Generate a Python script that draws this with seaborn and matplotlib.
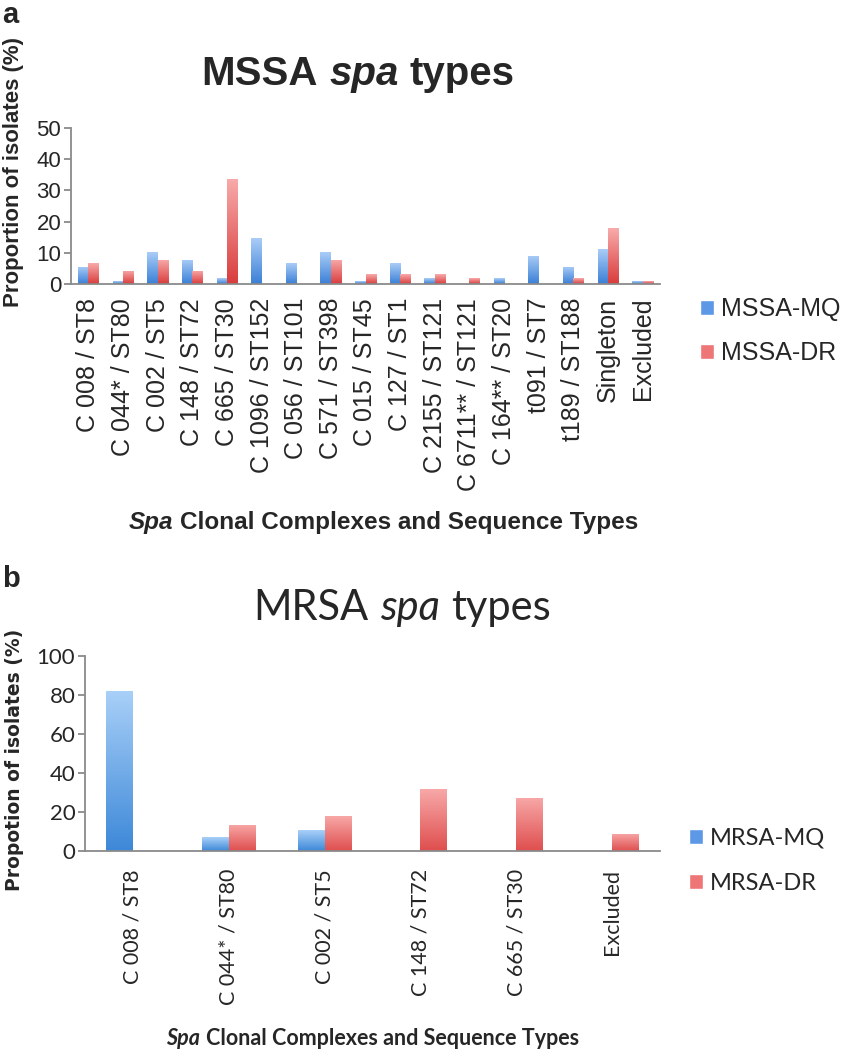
import numpy as np
import pandas as pd
import matplotlib
matplotlib.use("Agg")
import matplotlib.pyplot as plt
import seaborn as sns
from matplotlib.colors import LinearSegmentedColormap
from matplotlib.patches import Patch

# ---------------- data ----------------
mssa_categories = ["C 008 / ST8", "C 044* / ST80", "C 002 / ST5", "C 148 / ST72",
                   "C 665 / ST30", "C 1096 / ST152", "C 056 / ST101", "C 571 / ST398",
                   "C 015 / ST45", "C 127 / ST1", "C 2155 / ST121", "C 6711** / ST121",
                   "C 164** / ST20", "t091 / ST7", "t189 / ST188", "Singleton", "Excluded"]
mssa_mq = [5.5, 0.9, 10.1, 7.7, 1.9, 14.7, 6.6, 10.1, 0.9, 6.6, 1.9, 0.0, 1.9, 9.0, 5.5, 11.2, 0.9]
mssa_dr = [6.6, 4.3, 7.7, 4.3, 33.8, 0.0, 0.0, 7.7, 3.2, 3.2, 3.2, 1.9, 0.0, 0.0, 1.9, 17.9, 0.9]
mssa_series = ["MSSA-MQ", "MSSA-DR"]

mrsa_categories = ["C 008 / ST8", "C 044* / ST80", "C 002 / ST5", "C 148 / ST72",
                   "C 665 / ST30", "Excluded"]
mrsa_mq = [82.2, 7.0, 10.6, 0.0, 0.0, 0.0]
mrsa_dr = [0.0, 13.5, 17.9, 31.6, 27.2, 8.9]
mrsa_series = ["MRSA-MQ", "MRSA-DR"]

mssa_yticks = [0, 10, 20, 30, 40, 50]
mrsa_yticks = [0, 20, 40, 60, 80, 100]

# ---------------- style ----------------
sns.set_style("white")
plt.rcParams["font.family"] = ["Liberation Sans", "DejaVu Sans"]

W, H = 842, 1050
fig = plt.figure(figsize=(W / 100, H / 100), dpi=100)


def fx(x):
    return x / W


def fy(y):
    return 1 - y / H


BLUE = ("#3a7fd6", "#aacdf7")
RED = ("#d93c3c", "#f8abab")
AXC = "#8a8a8a"


def long_df(cats, a, b, names):
    return pd.DataFrame({
        "category": cats * 2,
        "value": list(a) + list(b),
        "series": [names[0]] * len(cats) + [names[1]] * len(cats),
    })


def gradient_bars(ax, grads):
    for cont, (dark, light) in zip(ax.containers, grads):
        cmap = LinearSegmentedColormap.from_list("g", [dark, light])
        for bar in cont:
            h = bar.get_height()
            if not np.isfinite(h) or h <= 0:
                continue
            x0, w = bar.get_x(), bar.get_width()
            im = ax.imshow(np.linspace(0, 1, 256).reshape(-1, 1), extent=[x0, x0 + w, 0, h],
                           origin="lower", aspect="auto", cmap=cmap, zorder=bar.get_zorder())
            im.set_clip_path(bar)
            bar.set_facecolor("none")
            bar.set_edgecolor("none")


def style_axes(ax, n, ylim, yticks, tick_font, tick_size, ytick_size, pad):
    ax.set_xlim(-0.5, n - 0.5)
    ax.set_ylim(*ylim)
    ax.set_yticks(yticks)
    ax.set_xticks(np.arange(-0.5, n, 1.0), minor=True)
    for s in ["top", "right"]:
        ax.spines[s].set_visible(False)
    for s in ["left", "bottom"]:
        ax.spines[s].set_color(AXC)
        ax.spines[s].set_linewidth(1.3)
    ax.tick_params(axis="x", which="major", length=0, pad=pad)
    ax.tick_params(axis="x", which="minor", length=6, width=1.3, color=AXC, direction="out")
    ax.tick_params(axis="y", which="major", length=5, width=1.3, color=AXC, direction="out",
                   pad=2, left=True)
    for lab in ax.get_xticklabels():
        lab.set_rotation(90)
        lab.set_fontfamily(tick_font)
        lab.set_fontsize(tick_size)
        lab.set_va("top")
        lab.set_ha("center")
    for lab in ax.get_yticklabels():
        lab.set_fontfamily(tick_font)
        lab.set_fontsize(ytick_size)
    ax.set_xlabel("")
    ax.set_ylabel("")
    ax.grid(False)


def rich_text(parts, xc, ybase, size, family):
    renderer = fig.canvas.get_renderer()
    texts, widths = [], []
    for s, weight, style in parts:
        t = fig.text(0, 0, s, fontsize=size, fontweight=weight, fontstyle=style,
                     family=family, va="baseline", ha="left")
        widths.append(t.get_window_extent(renderer).width)
        texts.append(t)
    gap = 0.28 * size * 100 / 72
    total = sum(widths) + gap * (len(parts) - 1)
    x = xc - total / 2
    for t, w in zip(texts, widths):
        t.set_position((fx(x), fy(ybase)))
        x += w + gap


# ---------------- panel a: MSSA ----------------
ax1 = fig.add_axes([fx(71), fy(284), (660 - 71) / W, (284 - 128) / H])
df1 = long_df(mssa_categories, mssa_mq, mssa_dr, mssa_series)
sns.barplot(data=df1, x="category", y="value", hue="series", palette=[BLUE[0], RED[0]],
            width=0.6, gap=0, ax=ax1, legend=False, errorbar=None)
gradient_bars(ax1, [BLUE, RED])
style_axes(ax1, len(mssa_categories), (0, 50), mssa_yticks, "Liberation Sans", 18, 16, 10)

fig.text(fx(2), fy(1), "a", fontsize=21, fontweight="bold", family="Liberation Sans",
         va="top", ha="left")
rich_text([("MSSA", "bold", "normal"), ("spa", "bold", "italic"), ("types", "bold", "normal")],
          358, 85, 29, "Liberation Sans")
fig.text(fx(14), fy(172), "Proportion of isolates (%)", rotation=90, fontsize=16,
         fontweight="bold", family="Liberation Sans", va="center", ha="center")
rich_text([("Spa", "bold", "italic"), ("Clonal Complexes and Sequence Types", "bold", "normal")],
          383, 529, 17.5, "Liberation Sans")

h1 = [Patch(facecolor="#5d98e6", label=mssa_series[0]), Patch(facecolor="#ee7676", label=mssa_series[1])]
ax1.legend(handles=h1, loc="upper left", bbox_to_anchor=(fx(700), fy(297)),
           bbox_transform=fig.transFigure, frameon=False, borderpad=0,
           borderaxespad=0, handlelength=0.55, handleheight=0.55, handletextpad=0.3,
           labelspacing=0.8, prop={"family": "Liberation Sans", "size": 18})

# ---------------- panel b: MRSA ----------------
ax2 = fig.add_axes([fx(85), fy(851), (660 - 85) / W, (851 - 656) / H])
df2 = long_df(mrsa_categories, mrsa_mq, mrsa_dr, mrsa_series)
sns.barplot(data=df2, x="category", y="value", hue="series", palette=[BLUE[0], RED[0]],
            width=0.56, gap=0, ax=ax2, legend=False, errorbar=None)
gradient_bars(ax2, [("#3d88d8", "#a9d0f8"), ("#df4e4e", "#f8a8a8")])
style_axes(ax2, len(mrsa_categories), (0, 100), mrsa_yticks, "Lato", 15.5, 16, 13)

fig.text(fx(2), fy(587), "b", fontsize=21, fontweight="bold", family="Liberation Sans",
         va="baseline", ha="left")
rich_text([("MRSA", "normal", "normal"), ("spa", "normal", "italic"), ("types", "normal", "normal")],
          402, 620, 30, "Lato")
fig.text(fx(15), fy(760), "Propotion of isolates (%)", rotation=90, fontsize=13.5,
         fontweight="bold", family="DejaVu Sans", va="center", ha="center")
rich_text([("Spa", "bold", "italic"), ("Clonal Complexes and Sequence Types", "bold", "normal")],
          373, 1045, 15.5, "Lato")

h2 = [Patch(facecolor="#5d98e6", label=mrsa_series[0]), Patch(facecolor="#ee7676", label=mrsa_series[1])]
ax2.legend(handles=h2, loc="upper left", bbox_to_anchor=(fx(689), fy(828)),
           bbox_transform=fig.transFigure, frameon=False, borderpad=0,
           borderaxespad=0, handlelength=0.6, handleheight=0.6, handletextpad=0.3,
           labelspacing=1.0, prop={"family": "Lato", "size": 17})

fig.savefig("out.png", dpi=100)
